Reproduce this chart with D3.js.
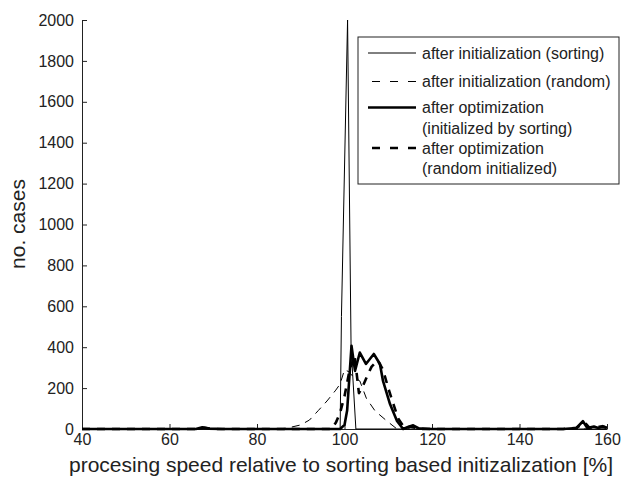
<!DOCTYPE html>
<html>
<head>
<meta charset="utf-8">
<script src="https://cdn.jsdelivr.net/npm/d3@7"></script>
<style>
  body { margin: 0; background: #fff; }
  svg text { font-family: "Liberation Sans", Arial, Helvetica, sans-serif; fill: #222; }
  .axis path, .axis line { stroke: #222; stroke-width: 1; }
  .axis text { font-size: 16px; }
</style>
</head>
<body>
<div id="chart"></div>
<script>
// values
var xTicks = [40, 60, 80, 100, 120, 140, 160];
var yTicks = [0, 200, 400, 600, 800, 1000, 1200, 1400, 1600, 1800, 2000];

var initSortX = [40, 99.0, 99.3, 100.7, 101.5, 102.6, 160];
var initSortY = [0, 0, 550, 2000, 400, 0, 0];

var initRandX = [40, 85, 87, 90, 92, 94, 96, 98, 99, 100, 101, 102, 103.5, 105, 107, 109.7, 112, 160];
var initRandY = [0, 0, 5, 20, 44, 90, 137, 190, 220, 290, 280, 255, 235, 150, 88, 39, 0, 0];

var optSortX = [40, 60, 66, 67.5, 69, 72, 99, 100, 100.6, 101.6, 102.4, 103.5, 104.9, 106.7, 108.1, 108.8, 110.4, 112, 113.4, 114.5, 115.7, 117, 120, 150, 153, 154.5, 155.5, 157, 158, 159, 160];
var optSortY = [0, 0, 0, 8, 2, 0, 0, 20, 90, 407, 284, 374, 318, 367, 318, 235, 122, 39, 0, 10, 18, 3, 0, 0, 5, 38, 5, 12, 5, 14, 6];

var optRandX = [40, 66, 68, 70, 97, 98, 99, 100, 101, 102.3, 103.3, 104.2, 105.2, 106.2, 107.6, 108.8, 110, 111.2, 112.3, 113.8, 115, 116.5, 118, 150, 153, 155, 156, 157.5, 159, 160];
var optRandY = [0, 0, 6, 0, 0, 30, 80, 160, 270, 360, 175, 210, 260, 305, 335, 290, 200, 120, 50, 3, 12, 4, 0, 0, 6, 30, 6, 10, 12, 6];

var legendLabels = [
  ["after initialization (sorting)"],
  ["after initialization (random)"],
  ["after optimization", "(initialized by sorting)"],
  ["after optimization", "(random initialized)"]
];

function pairs(xs, ys) {
  return xs.map(function(x, i) { return { x: x, y: ys[i] }; });
}

var series = [
  { data: pairs(initSortX, initSortY), width: 1, dash: null },
  { data: pairs(initRandX, initRandY), width: 1, dash: "8,6" },
  { data: pairs(optSortX, optSortY), width: 2.6, dash: null },
  { data: pairs(optRandX, optRandY), width: 2.6, dash: "8,7" }
];

var W = 624, H = 482;
var margin = { top: 20, right: 17, bottom: 53, left: 82 };
var width = W - margin.left - margin.right,
    height = H - margin.top - margin.bottom;

var svg = d3.select("#chart").append("svg")
    .attr("width", W)
    .attr("height", H);

var g = svg.append("g")
    .attr("transform", "translate(" + margin.left + "," + margin.top + ")");

var x = d3.scaleLinear().domain([40, 160]).range([0, width]);
var y = d3.scaleLinear().domain([0, 2000]).range([height, 0]);

// axes, ticks pointing inward like the original
g.append("g")
    .attr("class", "axis")
    .call(d3.axisLeft(y).tickValues(yTicks).tickFormat(d3.format("d"))
      .tickSizeInner(-5).tickSizeOuter(0).tickPadding(8));

g.append("g")
    .attr("class", "axis")
    .attr("transform", "translate(0," + height + ")")
    .call(d3.axisBottom(x).tickValues(xTicks).tickFormat(d3.format("d"))
      .tickSizeInner(-5).tickSizeOuter(0).tickPadding(5));

svg.append("defs").append("clipPath").attr("id", "clip")
  .append("rect").attr("x", 0).attr("y", -2).attr("width", width).attr("height", height + 4);

var line = d3.line()
    .x(function(d) { return x(d.x); })
    .y(function(d) { return y(d.y); });

g.append("g").attr("clip-path", "url(#clip)")
  .selectAll("path")
  .data(series)
  .enter().append("path")
    .attr("d", function(s) { return line(s.data); })
    .attr("fill", "none")
    .attr("stroke", "#000")
    .attr("stroke-width", function(s) { return s.width; })
    .attr("stroke-linejoin", "round")
    .attr("stroke-dasharray", function(s) { return s.dash; });

// axis titles
svg.append("text")
    .attr("x", 341)
    .attr("y", 472)
    .attr("text-anchor", "middle")
    .style("font-size", "21px")
    .text("procesing speed relative to sorting based initizalization [%]");

svg.append("text")
    .attr("transform", "translate(25," + 224 + ") rotate(-90)")
    .attr("text-anchor", "middle")
    .style("font-size", "21px")
    .text("no. cases");

// legend
var legend = svg.append("g").attr("transform", "translate(358,37)");
legend.append("rect")
    .attr("width", 261).attr("height", 147)
    .attr("fill", "#fff").attr("stroke", "#222").attr("stroke-width", 1);

var rowY = [16, 44.5, 70.5, 111];
legendLabels.forEach(function(lines, i) {
  var s = series[i];
  var row = legend.append("g").attr("transform", "translate(0," + rowY[i] + ")");
  row.append("line")
      .attr("x1", 10).attr("x2", 58).attr("y1", 0).attr("y2", 0)
      .attr("stroke", "#000")
      .attr("stroke-width", s.width)
      .attr("stroke-dasharray", s.dash ? "8,10" : null)
      .attr("stroke-dashoffset", s.dash ? -4 : null);
  lines.forEach(function(t, j) {
    row.append("text")
        .attr("x", 64)
        .attr("y", j * 20.5)
        .attr("dy", "0.35em")
        .style("font-size", "16px")
        .text(t);
  });
});
</script>
</body>
</html>
